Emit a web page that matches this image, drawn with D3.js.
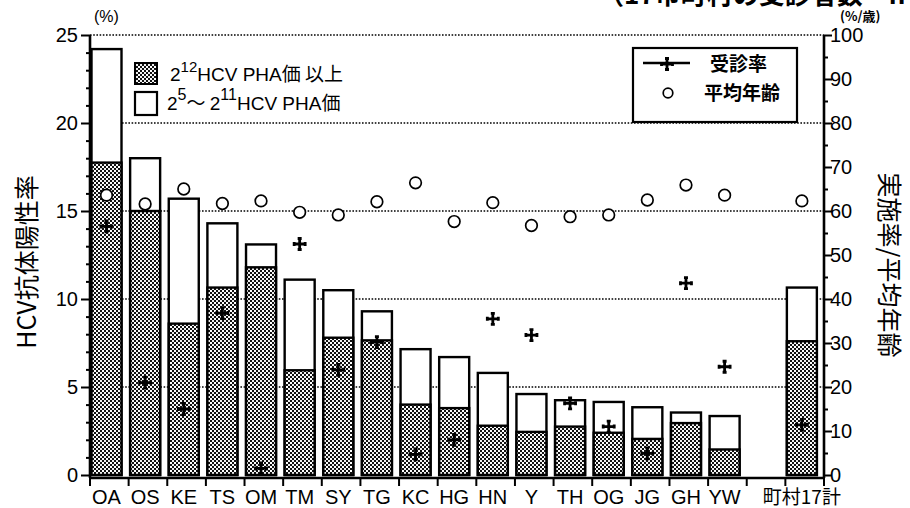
<!DOCTYPE html>
<html><head><meta charset="utf-8">
<script src="https://cdn.jsdelivr.net/npm/d3@7"></script>
<style>
html,body{margin:0;padding:0;background:#fff;}
svg{display:block;}
text{font-family:"Liberation Sans",Arial,"Noto Sans CJK JP",sans-serif;fill:#000;}
.cjk{font-family:"Noto Sans CJK JP","Liberation Sans",sans-serif;}
</style></head>
<body>
<script>
// ---- data ----
const categories = ["OA","OS","KE","TS","OM","TM","SY","TG","KC","HG","HN","Y","TH","OG","JG","GH","YW","","町村17計"];
const totalPositive = [24.2,18.0,15.7,14.3,13.1,11.1,10.5,9.3,7.15,6.7,5.8,4.6,4.25,4.15,3.85,3.55,3.35,null,10.65];
const highTiter    = [17.75,15.0,8.6,10.65,11.8,5.95,7.8,7.65,4.0,3.8,2.8,2.45,2.75,2.4,2.05,2.95,1.45,null,7.6];
const examRate     = [56.5,21.0,15.0,36.8,1.5,52.5,23.9,30.2,4.7,8.0,35.5,31.8,16.3,11.0,4.9,43.6,24.6,null,11.4];
const meanAge      = [63.6,61.6,65.0,61.7,62.3,59.7,59.1,62.1,66.4,57.6,61.9,56.7,58.7,59.1,62.5,65.9,63.6,null,62.3];
const leftTicks  = [0,5,10,15,20,25];
const rightTicks = [0,10,20,30,40,50,60,70,80,90,100];
const gridValues = [5,10,15,20,25];

const W=910,H=508;
const svg=d3.select("body").append("svg").attr("width",W).attr("height",H);
const defs=svg.append("defs");
const pat=defs.append("pattern").attr("id","dots").attr("patternUnits","userSpaceOnUse").attr("width",4).attr("height",4);
pat.append("rect").attr("width",4).attr("height",4).attr("fill","#111");
pat.append("rect").attr("x",0).attr("y",0).attr("width",2).attr("height",2).attr("fill","#eee");
pat.append("rect").attr("x",2).attr("y",2).attr("width",2).attr("height",2).attr("fill","#fff");

const x0=90,x1=824,yB=475,yT=35;
const x=d3.scaleBand().domain(categories).range([x0,x1]).paddingInner(0).paddingOuter(0);
const yL=d3.scaleLinear().domain([0,25]).range([yB,yT]);
const yR=d3.scaleLinear().domain([0,100]).range([yB,yT]);
const bw=30, off=1.5;
const cx=c=>x(c)+off+bw/2;

// top cut title
svg.append("text").attr("class","cjk").attr("x",598).attr("y",4).attr("font-size",26).attr("font-weight","bold")
  .text("（17市町村の受診者数　n");

// gridlines
svg.append("g").selectAll("line").data(gridValues).join("line")
  .attr("x1",x0).attr("x2",x1).attr("y1",d=>yL(d)).attr("y2",d=>yL(d))
  .attr("stroke","#000").attr("stroke-width",1.6).attr("stroke-dasharray","1.6,1.6");

// bars
const idx=d3.range(categories.length).filter(i=>totalPositive[i]!=null);
const bars=svg.append("g");
bars.selectAll("rect.tot").data(idx).join("rect").attr("class","tot")
  .attr("x",i=>x(categories[i])+off).attr("width",bw)
  .attr("y",i=>yL(totalPositive[i])).attr("height",i=>yL(0)-yL(totalPositive[i]))
  .attr("fill","#fff").attr("stroke","#000").attr("stroke-width",2.4);
bars.selectAll("rect.hi").data(idx).join("rect").attr("class","hi")
  .attr("x",i=>x(categories[i])+off).attr("width",bw)
  .attr("y",i=>yL(highTiter[i])).attr("height",i=>yL(0)-yL(highTiter[i]))
  .attr("fill","url(#dots)").attr("stroke","#000").attr("stroke-width",2.4);

// markers
const crossPath="M-2,-5.5 h4 M0,-5.5 V5.5 M-2,5.5 h4 M-5.5,-2 v4 M-5.5,0 H5.5 M5.5,-2 v4";
function drawCross(g,tx,ty){
  g.append("path").attr("transform",`translate(${tx},${ty})`).attr("d",crossPath)
   .attr("stroke","#000").attr("stroke-width",2.8).attr("fill","none");
}
const mk=svg.append("g");
idx.forEach(i=>drawCross(mk,cx(categories[i]),yR(examRate[i])));
mk.selectAll("circle").data(idx).join("circle")
  .attr("cx",i=>cx(categories[i])).attr("cy",i=>yR(meanAge[i])).attr("r",5.8)
  .attr("fill","#fff").attr("stroke","#000").attr("stroke-width",1.7);

// left legend
const lg=svg.append("g");
lg.append("rect").attr("x",135).attr("y",63).attr("width",22).attr("height",21).attr("fill","url(#dots)").attr("stroke","#000").attr("stroke-width",2);
lg.append("rect").attr("x",135).attr("y",92).attr("width",22).attr("height",23).attr("fill","#fff").attr("stroke","#000").attr("stroke-width",2.2);
const t1=lg.append("text").attr("x",170).attr("y",81).attr("font-size",19);
t1.append("tspan").text("2");
t1.append("tspan").attr("dy",-9).attr("font-size",15).text("12");
t1.append("tspan").attr("dy",9).text("HCV PHA");
t1.append("tspan").attr("class","cjk").text("価 以上");
const t2=lg.append("text").attr("x",167).attr("y",110).attr("font-size",19);
t2.append("tspan").text("2");
t2.append("tspan").attr("dy",-10).attr("font-size",16).text("5");
t2.append("tspan").attr("dy",10).attr("class","cjk").text("～ ");
t2.append("tspan").text("2");
t2.append("tspan").attr("dy",-10).attr("font-size",16).text("11");
t2.append("tspan").attr("dy",10).text("HCV PHA");
t2.append("tspan").attr("class","cjk").text("価");

// right legend
const rg=svg.append("g");
rg.append("rect").attr("x",633).attr("y",48).attr("width",164).attr("height",74).attr("fill","#fff").attr("stroke","#000").attr("stroke-width",2.2);
rg.append("line").attr("x1",643).attr("x2",690).attr("y1",63).attr("y2",63).attr("stroke","#000").attr("stroke-width",2.4);
drawCross(rg,667,64);
rg.append("circle").attr("cx",668).attr("cy",93).attr("r",4.8).attr("fill","#fff").attr("stroke","#000").attr("stroke-width",1.7);
rg.append("text").attr("class","cjk").attr("x",710).attr("y",71).attr("font-size",19).attr("font-weight","bold").text("受診率");
rg.append("text").attr("class","cjk").attr("x",704).attr("y",100).attr("font-size",19).attr("font-weight","bold").text("平均年齢");

// left axis
const la=svg.append("g").attr("transform",`translate(${x0},0)`)
  .call(d3.axisLeft(yL).tickValues(leftTicks).tickSize(9).tickFormat(d3.format("d")));
la.select(".domain").attr("stroke-width",2.6).attr("d",`M0,${yT}V${yB+3}`);
la.selectAll(".tick line").attr("stroke-width",2);
la.selectAll(".tick text").attr("font-size",20).attr("font-family","Liberation Sans, Arial, sans-serif").attr("x",-12);
const laMinor=svg.append("g").attr("transform",`translate(${x0},0)`)
  .call(d3.axisLeft(yL).tickValues(d3.range(0,26).filter(v=>v%5)).tickSize(4).tickFormat(""));
laMinor.select(".domain").remove();
laMinor.selectAll(".tick line").attr("stroke-width",2);

// right axis
const ra=svg.append("g").attr("transform",`translate(${x1},0)`)
  .call(d3.axisRight(yR).tickValues(rightTicks).tickSize(8).tickFormat(d3.format("d")));
ra.select(".domain").attr("stroke-width",2.6).attr("d",`M0,${yT}V${yB+3}`);
ra.selectAll(".tick line").attr("stroke-width",2);
ra.selectAll(".tick text").attr("font-size",20).attr("font-family","Liberation Sans, Arial, sans-serif").attr("x",6);
const raMinor=svg.append("g").attr("transform",`translate(${x1},0)`)
  .call(d3.axisRight(yR).tickValues(d3.range(5,100,10)).tickSize(4).tickFormat(""));
raMinor.select(".domain").remove();
raMinor.selectAll(".tick line").attr("stroke-width",2);

// bottom axis
const bx=svg.append("g");
bx.append("line").attr("x1",x0).attr("x2",x1).attr("y1",yB+3).attr("y2",yB+3).attr("stroke","#000").attr("stroke-width",2.6);
const bounds=categories.map(c=>x(c)).concat([x1]);
bx.selectAll("line.t").data(bounds).join("line").attr("class","t")
  .attr("x1",d=>d).attr("x2",d=>d).attr("y1",yB+3).attr("y2",yB+11).attr("stroke","#000").attr("stroke-width",2);
bx.selectAll("text").data(categories).join("text")
  .attr("x",c=>cx(c)).attr("y",504).attr("text-anchor","middle").attr("font-size",c=>/[^\x00-\x7f]/.test(c)?19:20)
  .attr("class",c=>/[^\x00-\x7f]/.test(c)?"cjk":null).text(c=>c);

// axis units & titles
svg.append("text").attr("x",94).attr("y",22).attr("font-size",16).text("(%)");
svg.append("text").attr("class","cjk").attr("x",840).attr("y",21).attr("font-size",13).attr("font-weight","bold").text("(%/歳)");
svg.append("text").attr("class","cjk").attr("transform","translate(36,262) rotate(-90)").attr("text-anchor","middle")
  .attr("font-size",25).text("HCV抗体陽性率");
svg.append("text").attr("class","cjk").attr("transform","translate(880,265) rotate(90)").attr("text-anchor","middle")
  .attr("font-size",25).text("実施率/平均年齢");
</script>
</body></html>
